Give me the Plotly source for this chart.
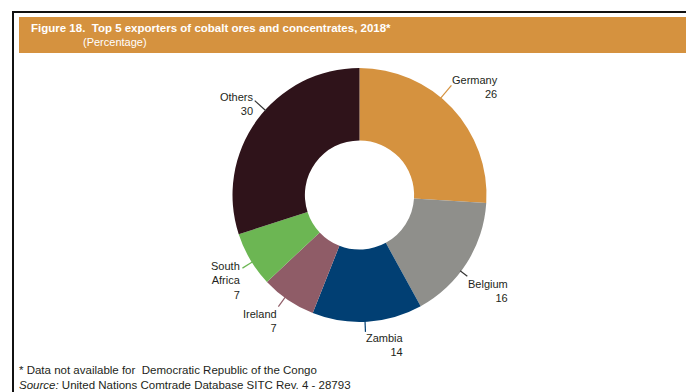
import math
import plotly.graph_objects as go

# Export shares of cobalt ores and concentrates, 2018 (percent)
countries = ["Germany", "Belgium", "Zambia", "Ireland", "South Africa", "Others"]
shares = [26, 16, 14, 7, 7, 30]
label_text = ["Germany<br>26", "Belgium<br>16", "Zambia<br>14",
              "Ireland<br>7", "South<br>Africa<br>7", "Others<br>30"]
slice_colors = ["#D5923F", "#8F8F8B", "#013F73", "#8F5C67", "#6CB653", "#2F131A"]

W, H = 686, 392
CX, CY, R = 359.5, 195.0, 127.0   # donut centre and radius in pixels
NARROW = "Liberation Sans, Arial, Helvetica, sans-serif"
REGULAR = "Liberation Sans, Arial, Helvetica, sans-serif"


def px(x):
    return x / W


def py(y):
    return 1 - y / H


fig = go.Figure(go.Pie(
    labels=countries,
    values=shares,
    sort=False,
    direction="clockwise",
    rotation=0,
    hole=0.43,
    textinfo="none",
    marker=dict(colors=slice_colors, line=dict(width=0)),
    domain=dict(x=[px(CX - R), px(CX + R)], y=[py(CY + R), py(CY - R)]),
    showlegend=False,
))

# label placement around each leader line:
# (xanchor, yanchor, y shift in px, leader length, angle nudge in degrees)
label_style = {
    "Germany": ("left", "middle", -1.5, 16, -6.8),
    "Belgium": ("left", "top", 0, 8, 4.6),
    "Zambia": ("left", "top", 2, 10, 1.1),
    "Ireland": ("right", "top", 0.5, 11, 1.8),
    "South Africa": ("right", "top", 10, 11, -1.4),
    "Others": ("right", "middle", -3.8, 14, 6.0),
}

shapes = []
annotations = []
total = sum(shares)
cum = 0
for name, val, txt, col in zip(countries, shares, label_text, slice_colors):
    xa, ya, ys, length, nudge = label_style[name]
    mid = (cum + val / 2) / total * 2 * math.pi + math.radians(nudge)
    cum += val
    sx, sy = math.sin(mid), -math.cos(mid)
    x0, y0 = CX + (R - 1) * sx, CY + (R - 1) * sy
    x1, y1 = CX + (R + length) * sx, CY + (R + length) * sy
    line_col = "#333333" if name in ("Belgium", "Others") else col
    shapes.append(dict(type="line", xref="paper", yref="paper",
                       x0=px(x0), y0=py(y0), x1=px(x1), y1=py(y1),
                       line=dict(color=line_col, width=1.2)))
    annotations.append(dict(
        x=px(x1 + (-1 if xa == "left" else 1)), y=py(y1 - ys),
        xref="paper", yref="paper", text=txt, showarrow=False,
        xanchor=xa, yanchor=ya, align="right",
        font=dict(family=NARROW, size=11, color="#231F20"),
    ))

# frame and header band
shapes += [
    dict(type="line", xref="paper", yref="paper", x0=px(12), x1=1.0,
         y0=py(12), y1=py(12), line=dict(color="#111111", width=2)),
    dict(type="line", xref="paper", yref="paper", x0=px(13), x1=px(13),
         y0=py(12), y1=0.0, line=dict(color="#111111", width=2)),
    dict(type="rect", xref="paper", yref="paper", x0=px(19), x1=1.0,
         y0=py(53), y1=py(17), fillcolor="#D5923F", line=dict(width=0)),
]

annotations += [
    dict(x=px(29), y=py(28), xref="paper", yref="paper", showarrow=False,
         xanchor="left", yanchor="middle",
         text="<b>Figure 18.  Top 5 exporters of cobalt ores and concentrates, 2018*</b>",
         font=dict(family=NARROW, size=11.5, color="white")),
    dict(x=px(81), y=py(42), xref="paper", yref="paper", showarrow=False,
         xanchor="left", yanchor="middle", text="(Percentage)",
         font=dict(family=NARROW, size=11, color="white")),
    dict(x=px(17), y=py(370), xref="paper", yref="paper", showarrow=False,
         xanchor="left", yanchor="middle",
         text="* Data not available for  Democratic Republic of the Congo",
         font=dict(family=REGULAR, size=11.5, color="#231F20")),
    dict(x=px(17), y=py(385), xref="paper", yref="paper", showarrow=False,
         xanchor="left", yanchor="middle",
         text="<i>Source:</i> United Nations Comtrade Database SITC Rev. 4 - 28793",
         font=dict(family=REGULAR, size=11.5, color="#231F20")),
]

fig.update_layout(
    width=W, height=H,
    margin=dict(l=0, r=0, t=0, b=0),
    paper_bgcolor="white",
    plot_bgcolor="white",
    shapes=shapes,
    annotations=annotations,
)

fig.write_html("out.html")
